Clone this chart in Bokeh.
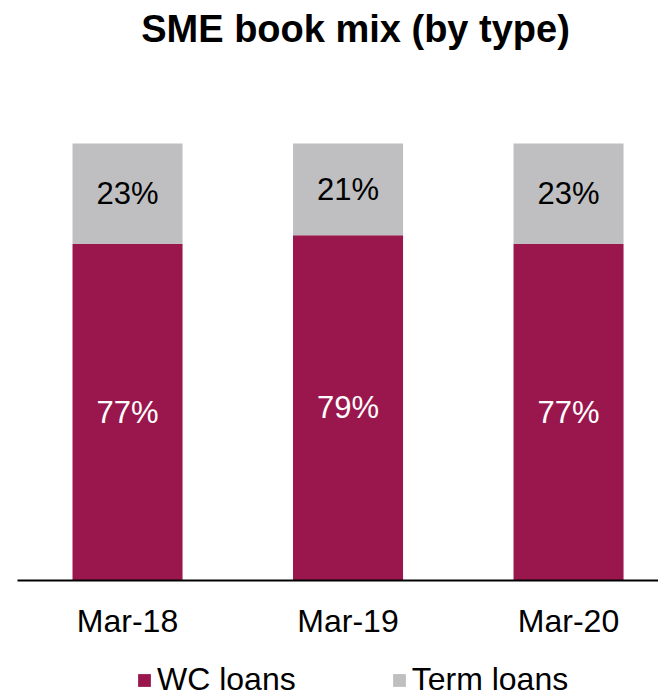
from bokeh.plotting import figure
from bokeh.layouts import column
from bokeh.models import (ColumnDataSource, Range1d, FixedTicker, Label,
                          Legend, LegendItem)
from bokeh.core.properties import value
from bokeh.embed import file_html
from bokeh.resources import INLINE

# ---- data ----
periods = ["Mar-18", "Mar-19", "Mar-20"]
wc_loans = [77, 79, 77]
term_loans = [23, 21, 23]
series_names = ["WC loans", "Term loans"]
series_colors = ["#99174D", "#BFBFC1"]
chart_title = "SME book mix (by type)"

FONT = "Liberation Sans"

xs = list(range(len(periods)))
src = ColumnDataSource(dict(
    x=xs,
    wc=wc_loans,
    term=term_loans,
    wc_mid=[v / 2 for v in wc_loans],
    term_mid=[a + b / 2 for a, b in zip(wc_loans, term_loans)],
    wc_txt=[f"{v}%" for v in wc_loans],
    term_txt=[f"{v}%" for v in term_loans],
))

W = 658
MAIN_H = 645
FRAME_H = 580
LEG_H = 698 - MAIN_H
PX_PER_UNIT = 4.37

p = figure(width=W, height=MAIN_H, output_backend="svg",
           toolbar_location=None,
           x_range=Range1d(-0.499, 2.408),
           y_range=Range1d(0, FRAME_H / PX_PER_UNIT),
           min_border_left=17, min_border_right=0, min_border_top=0,
           min_border_bottom=MAIN_H - FRAME_H, y_axis_location=None)
p.title.visible = False
p.outline_line_color = None
p.grid.visible = False
p.background_fill_color = "white"
p.border_fill_color = "white"

rs = p.vbar_stack(["wc", "term"], x="x", width=0.499, source=src,
                  color=series_colors, line_color=None)

p.text(x="x", y="wc_mid", text="wc_txt", source=src, text_color="white",
       text_font=value(FONT), text_font_size="31px",
       text_align="center", text_baseline="middle")
p.text(x="x", y="term_mid", text="term_txt", source=src, text_color="black",
       text_font=value(FONT), text_font_size="31px",
       text_align="center", text_baseline="middle")

# title
p.add_layout(Label(x=1.034, y=(FRAME_H - 28) / PX_PER_UNIT, text=chart_title,
                   text_font=FONT, text_font_size="38px", text_font_style="bold",
                   text_align="center", text_baseline="alphabetic",
                   text_color="black"))

ax = p.xaxis[0]
ax.ticker = FixedTicker(ticks=xs)
ax.major_label_overrides = {i: lab for i, lab in zip(xs, periods)}
ax.axis_line_color = "black"
ax.axis_line_width = 2
ax.major_tick_line_color = None
ax.minor_tick_line_color = None
ax.major_tick_in = 0
ax.major_tick_out = 0
ax.axis_label = None
ax.major_label_text_font = FONT
ax.major_label_text_font_size = "32px"
ax.major_label_text_color = "black"
ax.major_label_standoff = 22

# ---- legend strip (separate small figure below the chart) ----
p2 = figure(width=W, height=LEG_H, output_backend="svg", toolbar_location=None,
            x_range=Range1d(0, W), y_range=Range1d(0, LEG_H),
            min_border=0, x_axis_location=None, y_axis_location=None)
p2.title.visible = False
p2.outline_line_color = None
p2.grid.visible = False
p2.background_fill_color = "white"
p2.border_fill_color = "white"

# zero-size swatch renderers: only their legend glyphs are visible
swatches = [p2.rect(x=[0], y=[0], width=0, height=0, color=c, line_color=None)
            for c in series_colors]
legend = Legend(items=[LegendItem(label=n, renderers=[r])
                       for n, r in zip(series_names, swatches)],
                orientation="horizontal", location=(119, 0),
                label_text_font=FONT, label_text_font_size="32px",
                label_text_color="black",
                glyph_width=16, glyph_height=16, label_standoff=5,
                spacing=95, padding=0, margin=0,
                border_line_color=None, background_fill_alpha=0)
p2.add_layout(legend, "center")

layout = column(p, p2, spacing=0)
open("out.html", "w").write(file_html(layout, INLINE))
